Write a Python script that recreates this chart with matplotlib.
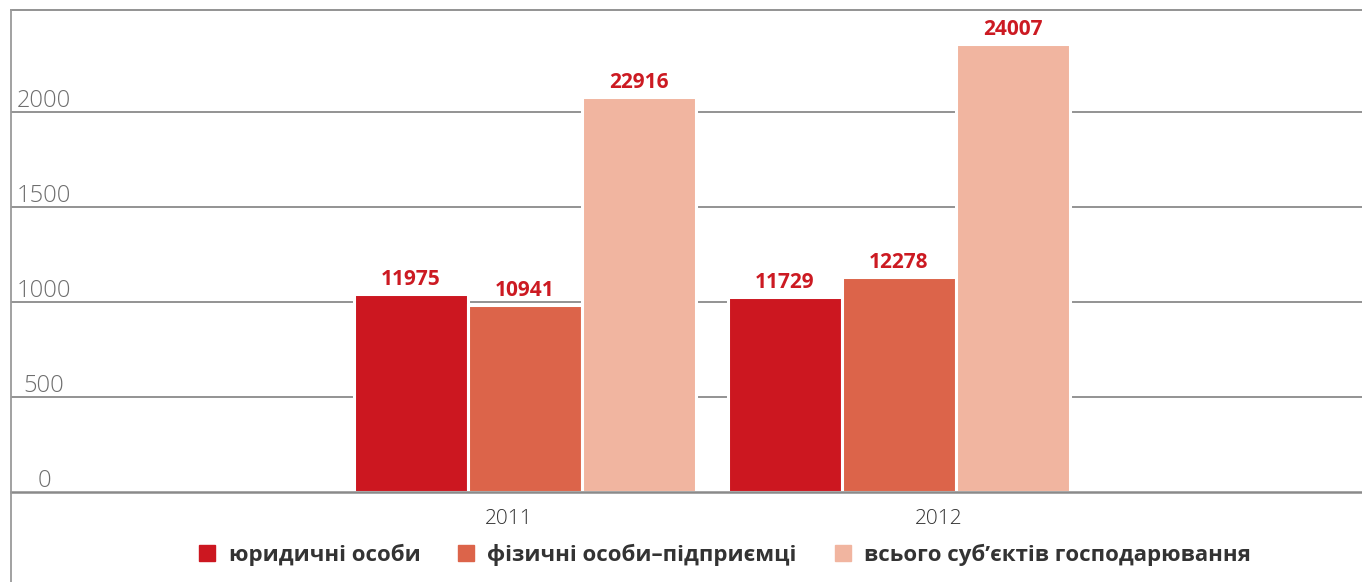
import matplotlib
matplotlib.use("Agg")
from matplotlib import pyplot as plt
from matplotlib.patches import Patch
from matplotlib.lines import Line2D
import numpy as np

years = ['2011', '2012']
series = ['юридичні особи', 'фізичні особи–підприємці', 'всього суб’єктів господарювання']
# bar heights as drawn against the axis
legal = [1040, 1026]
persons = [984, 1132]
total = [2080, 2358]
# numbers printed above the bars
legal_lbl = ['11975', '11729']
persons_lbl = ['10941', '12278']
total_lbl = ['22916', '24007']
yticks = [0, 500, 1000, 1500, 2000]

colors = ['#cc1720', '#dc644a', '#f1b5a0']
grid_c = '#8a8a8a'

plt.rcParams['font.family'] = ['Open Sans', 'DejaVu Sans']

fig = plt.figure(figsize=(13.62, 5.82), dpi=100)
ax = fig.add_axes([11 / 1362, 1 - 492 / 582, 1 - 11 / 1362, 482 / 582])

x = np.arange(len(years))
w = 114 / 374
for i, (vals, lbls) in enumerate([(legal, legal_lbl), (persons, persons_lbl), (total, total_lbl)]):
    pos = x + (i - 1) * w
    bars = ax.bar(pos, vals, width=w, color=colors[i], edgecolor='white',
                  linewidth=2.2, zorder=3, label=series[i])
    for b, t in zip(bars, lbls):
        ax.annotate(t, (b.get_x() + b.get_width() / 2, b.get_height()),
                    xytext=(0, 3), textcoords='offset points', ha='center', va='bottom',
                    color='#cc1a22', fontsize=15, fontweight='bold', zorder=4)

ax.set_xlim(-1.373, 2.239)
ax.set_ylim(0, 2537)

for v in yticks[1:]:
    ax.axhline(v, color=grid_c, lw=1.3, zorder=1)
for v in yticks:
    ax.annotate(str(v), (0.0244, v), xycoords=ax.get_yaxis_transform(),
                xytext=(0, -1), textcoords='offset points', ha='center', va='bottom',
                color='#6e6e6e', fontsize=17, fontweight='light')
ax.set_yticks([])

# year labels sit slightly off the group centres in the original
ax.set_xticks([-0.041, 1.106], years)
ax.tick_params(axis='x', length=0, pad=12, labelsize=15, labelcolor='#333333')
for lab in ax.get_xticklabels():
    lab.set_fontweight('light')

ax.spines['right'].set_visible(False)
ax.spines['left'].set_visible(False)
ax.spines['top'].set_color(grid_c)
ax.spines['top'].set_linewidth(1.3)
ax.spines['bottom'].set_color(grid_c)
ax.spines['bottom'].set_linewidth(1.8)
ax.spines['bottom'].set_zorder(5)

fig.add_artist(Line2D([11 / 1362, 11 / 1362], [0, 1 - 10 / 582], color='#9a9a9a', lw=1.3))

handles = [Patch(color=c) for c in colors]
leg = fig.legend(handles, series, loc='center', bbox_to_anchor=(725 / 1362, 1 - 555 / 582),
                 ncol=3, frameon=False, handlelength=0.72, handleheight=0.72,
                 handletextpad=0.6, columnspacing=1.7,
                 prop={'size': 16, 'weight': 'bold'})
for t in leg.get_texts():
    t.set_color('#333333')

fig.savefig('out.png', dpi=100)
